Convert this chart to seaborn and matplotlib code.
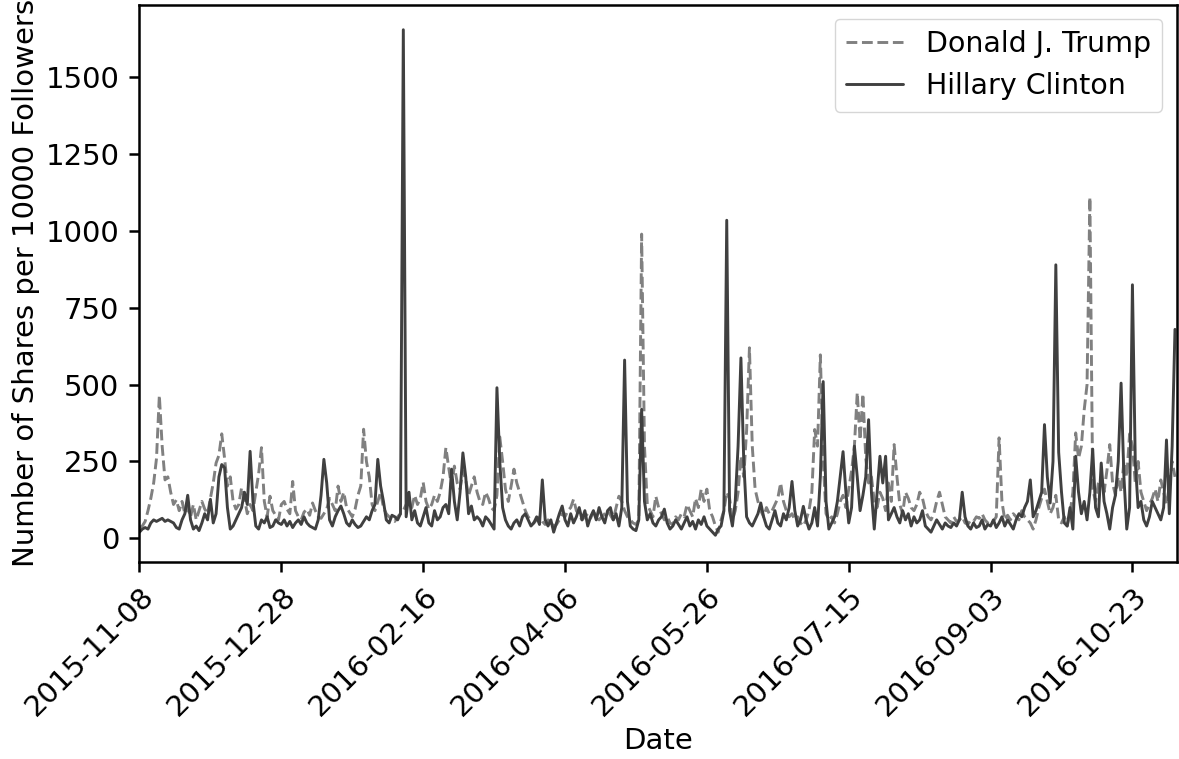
import numpy as np
import pandas as pd
import matplotlib
matplotlib.use("Agg")
import matplotlib.pyplot as plt
import matplotlib.dates as mdates
import seaborn as sns

# daily shares per 10000 followers, starting 2015-11-08
start_date = "2015-11-08"

trump = [
    35, 40, 55, 90, 130, 180, 260, 465, 300, 190,
    200, 150, 110, 125, 90, 120, 80, 100, 70, 110,
    60, 90, 120, 95, 80, 130, 180, 245, 270, 340,
    260, 170, 200, 120, 95, 110, 165, 130, 80, 110,
    90, 150, 210, 295, 120, 70, 137, 90, 75, 60,
    110, 120, 95, 80, 185, 90, 70, 60, 85, 95,
    75, 115, 90, 70, 65, 80, 95, 130, 110, 90,
    170, 120, 150, 100, 85, 70, 95, 140, 170, 355,
    250, 200, 110, 90, 120, 150, 100, 80, 70, 60,
    55, 70, 80, 90, 110, 120, 100, 140, 110, 130,
    182, 120, 95, 110, 140, 120, 150, 200, 295, 230,
    170, 235, 180, 160, 220, 190, 140, 170, 200, 150,
    120, 110, 150, 130, 100, 90, 140, 330, 250, 160,
    120, 170, 225, 180, 150, 120, 90, 70, 60, 50,
    60, 70, 55, 45, 60, 50, 40, 45, 60, 80,
    70, 90, 100, 127, 90, 75, 60, 70, 80, 65,
    85, 75, 60, 70, 80, 90, 75, 60, 100, 137,
    120, 90, 70, 60, 50, 45, 60, 990, 300, 110,
    90, 70, 137, 100, 80, 60, 70, 50, 45, 70,
    60, 80, 70, 110, 90, 70, 130, 100, 160, 120,
    160, 90, 70, 40, 20, 60, 90, 150, 130, 60,
    90, 150, 267, 200, 350, 620, 300, 160, 120, 90,
    70, 100, 80, 90, 110, 130, 180, 120, 90, 70,
    80, 60, 70, 50, 40, 60, 90, 150, 354, 300,
    597, 250, 80, 60, 70, 50, 80, 120, 140, 100,
    160, 220, 300, 474, 320, 470, 260, 180, 200, 120,
    100, 150, 130, 90, 180, 120, 305, 200, 110, 80,
    150, 130, 100, 90, 110, 150, 130, 90, 70, 60,
    80, 120, 150, 110, 70, 60, 50, 70, 55, 60,
    70, 50, 45, 60, 55, 70, 65, 80, 60, 50,
    45, 55, 70, 327, 120, 60, 75, 60, 80, 70,
    60, 90, 70, 60, 50, 30, 60, 100, 130, 160,
    120, 80, 100, 140, 60, 50, 70, 40, 80, 150,
    343, 260, 300, 418, 500, 1110, 160, 120, 180, 200,
    150, 220, 305, 180, 140, 200, 150, 250, 200, 340,
    300, 180, 250, 150, 120, 90, 110, 130, 160, 120,
    190, 150, 110, 170, 250, 200,
]

clinton = [
    20, 30, 35, 30, 50, 60, 55, 60, 65, 55,
    60, 55, 50, 35, 30, 60, 80, 140, 60, 30,
    40, 25, 50, 80, 60, 127, 50, 80, 200, 240,
    230, 100, 30, 40, 60, 80, 100, 150, 110, 283,
    120, 40, 30, 60, 50, 70, 35, 40, 60, 50,
    45, 60, 40, 55, 35, 50, 60, 45, 70, 50,
    40, 35, 30, 60, 140, 257, 180, 60, 40, 70,
    90, 105, 80, 50, 40, 60, 45, 35, 40, 55,
    70, 60, 90, 110, 257, 170, 120, 60, 50, 75,
    70, 60, 80, 1655, 70, 150, 60, 90, 50, 40,
    70, 100, 50, 40, 90, 60, 70, 100, 110, 80,
    225, 120, 60, 150, 278, 200, 80, 105, 60, 70,
    60, 40, 70, 60, 45, 30, 490, 250, 100, 60,
    40, 30, 50, 60, 40, 70, 80, 60, 40, 50,
    70, 45, 190, 60, 40, 60, 20, 50, 80, 105,
    60, 40, 80, 50, 70, 100, 60, 90, 40, 70,
    90, 60, 100, 70, 50, 90, 100, 60, 80, 40,
    100, 580, 120, 40, 30, 25, 60, 420, 120, 60,
    80, 50, 40, 60, 70, 95, 50, 30, 40, 60,
    45, 30, 50, 70, 40, 55, 30, 60, 45, 70,
    40, 30, 20, 10, 30, 40, 90, 1035, 90, 40,
    120, 300, 587, 250, 70, 50, 40, 60, 80, 115,
    70, 40, 30, 60, 90, 50, 40, 80, 60, 100,
    185, 90, 40, 60, 104, 60, 30, 50, 100, 40,
    200, 510, 120, 30, 50, 70, 120, 200, 282, 150,
    50, 100, 300, 200, 90, 140, 200, 386, 150, 30,
    150, 267, 180, 267, 60, 80, 100, 70, 50, 90,
    60, 80, 40, 70, 50, 60, 90, 40, 30, 20,
    40, 60, 45, 30, 50, 40, 35, 50, 40, 60,
    150, 70, 40, 30, 50, 35, 40, 60, 30, 45,
    40, 60, 35, 50, 70, 40, 60, 45, 30, 60,
    80, 70, 100, 120, 190, 70, 90, 120, 150, 370,
    200, 115, 250, 890, 280, 150, 50, 40, 100, 30,
    267, 150, 80, 120, 60, 150, 290, 100, 70, 245,
    120, 80, 30, 100, 140, 250, 505, 200, 30, 100,
    825, 250, 100, 120, 60, 40, 70, 120, 100, 80,
    60, 100, 320, 80, 300, 680,
]

dates = pd.date_range(start_date, periods=len(trump), freq="D")
tick_dates = pd.date_range(start_date, periods=8, freq="50D")
y_ticks = [0, 250, 500, 750, 1000, 1250, 1500]

sns.set_style("ticks")
plt.rcParams["font.family"] = ["DejaVu Sans"]
plt.rcParams["text.color"] = "black"
plt.rcParams["axes.labelcolor"] = "black"

fig, ax = plt.subplots(figsize=(11.79, 7.59), dpi=100)
fig.subplots_adjust(left=0.1183, right=0.998, top=0.994, bottom=0.26)

sns.lineplot(x=dates, y=trump, ax=ax, color="#808080", linestyle="--",
             linewidth=2.1, label="Donald J. Trump")
sns.lineplot(x=dates, y=clinton, ax=ax, color="#404040", linestyle="-",
             linewidth=2.1, label="Hillary Clinton")

ax.set_xlim(dates[0], dates[-1] + pd.Timedelta(hours=14))
ax.set_ylim(-76, 1737)
ax.set_xticks(tick_dates)
ax.xaxis.set_major_formatter(mdates.DateFormatter("%Y-%m-%d"))
ax.set_yticks(y_ticks)
plt.setp(ax.get_xticklabels(), rotation=45, ha="right", rotation_mode="anchor")
ax.tick_params(labelsize=21, width=1.8, length=7.5, pad=7, colors="black")
for s in ax.spines.values():
    s.set_linewidth(1.8)
    s.set_color("black")

ax.set_xlabel("Date", fontsize=21)
ax.set_ylabel("Number of Shares per 10000 Followers", fontsize=21)
ax.legend(loc="upper right", fontsize=20.5, frameon=True, fancybox=True,
          handlelength=2.0, borderaxespad=0.5)

fig.savefig("out.png", dpi=100)
